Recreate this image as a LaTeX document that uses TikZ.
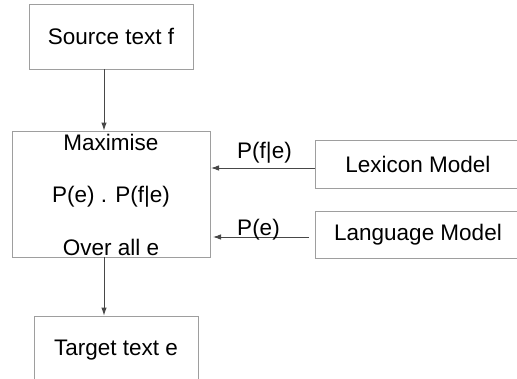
\documentclass[tikz,border=0pt]{standalone}
\usepackage{fontspec}
\setmainfont{Liberation Sans}
\usetikzlibrary{arrows.meta}
\begin{document}
\begin{tikzpicture}[x=1pt,y=-1pt,
  font=\fontsize{22.5}{27}\selectfont,
  box/.style={draw=black!38,line width=0.9pt,rectangle,inner sep=0pt},
  flow/.style={draw=black!72,line width=0.9pt,-{Latex[length=8pt,width=5.5pt]}},
  txt/.style={inner sep=0pt,anchor=base}]
  \useasboundingbox (0,0) rectangle (517,378);
  % boxes
  \node[box,minimum width=164pt,minimum height=65pt] (src) at (111,36.5) {Source text f};
  \node[box,minimum width=198pt,minimum height=126pt] (max) at (111,194) {};
  \node[txt] (m1) at (111,150) {Maximise};
  \node[txt] (m2) at (111,202) {P(e) . P(f|e)};
  \node[txt] (m3) at (111,255) {Over all e};
  \node[box,minimum width=164pt,minimum height=68pt] (tgt) at (116,350) {Target text e};
  \node[box,minimum width=206pt,minimum height=48pt] (lex) at (418,164) {Lexicon Model};
  \node[box,minimum width=206pt,minimum height=47pt] (lang) at (418,234.5) {Language Model};
  % connectors
  \coordinate (lexin) at (211,168);
  \coordinate (lexout) at (315,168);
  \coordinate (lanin) at (213,237);
  \coordinate (lanout) at (309,237);
  \draw[flow] (src.south -| 104,0) -- (max.north -| 104,0);
  \draw[flow] (max.south -| 104,0) -- (tgt.north -| 104,0);
  \draw[flow] (lexout) -- (lexin);
  \draw[flow] (lanout) -- (lanin);
  \node[txt] (l1) at (264.5,158) {P(f|e)};
  \node[txt] (l2) at (258.5,235) {P(e)};
\end{tikzpicture}
\end{document}
